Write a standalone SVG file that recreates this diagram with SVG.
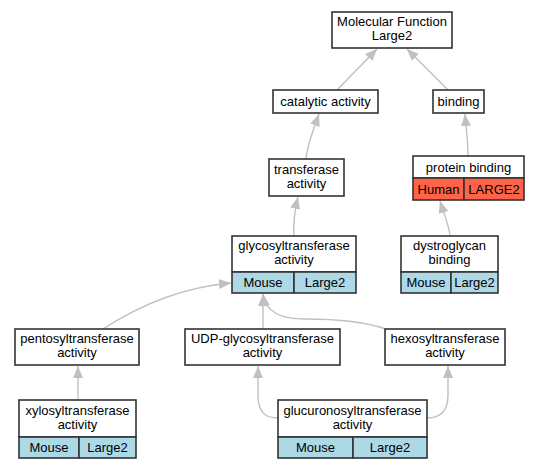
<svg xmlns="http://www.w3.org/2000/svg" width="539" height="469" viewBox="0 0 539 469">
<style>
.box{fill:#ffffff;stroke:#333333;stroke-width:1.6}
.blue{fill:#add8e6;stroke:#333333;stroke-width:1.6}
.red{fill:#ff6347;stroke:#333333;stroke-width:1.6}
text{font-family:"Liberation Sans",Arial,sans-serif;font-size:13px;fill:#000;text-anchor:middle}
.edge{fill:none;stroke:#c0c0c0;stroke-width:1.4;marker-end:url(#arr)}
</style>
<defs>
<marker id="arr" markerUnits="userSpaceOnUse" markerWidth="12" markerHeight="10" refX="12" refY="5" orient="auto">
<path d="M0,0 L12,5 L0,10 z" fill="#c0c0c0"/>
</marker>
</defs>
<rect width="539" height="469" fill="#ffffff"/>
<g id="edges">
<path class="edge" d="M337,90 L377,49"/>
<path class="edge" d="M448,90 L407,49"/>
<path class="edge" d="M306,159 C307,145 314,128 319,114"/>
<path class="edge" d="M468,156 C468,141 466,127 465,114"/>
<path class="edge" d="M294,236 C293,222 295,209 298,197"/>
<path class="edge" d="M450,236 C449,225 444,214 440,201"/>
<path class="edge" d="M103,329 C140,305 185,287 231,283"/>
<path class="edge" d="M263,329 L263,294"/>
<path class="edge" d="M386,329 C360,320 330,319 305,319 C280,319 266,312 263,294"/>
<path class="edge" d="M78,400 L78,366"/>
<path class="edge" d="M278,418 C265,418 258,412 258,395 L258,366"/>
<path class="edge" d="M427,418 C440,418 448,412 448,395 L448,366"/>
</g>
<g id="molecular_function">
<rect class="box" x="332" y="12" width="120" height="36"/>
<text x="392" y="26">Molecular Function</text>
<text x="392" y="40">Large2</text>
</g>
<g id="catalytic_activity">
<rect class="box" x="273" y="90" width="105" height="23"/>
<text x="325.5" y="106">catalytic activity</text>
</g>
<g id="binding">
<rect class="box" x="433" y="90" width="51" height="23"/>
<text x="458.5" y="106">binding</text>
</g>
<g id="transferase_activity">
<rect class="box" x="269" y="159" width="75" height="37"/>
<text x="306.5" y="174">transferase</text>
<text x="306.5" y="188">activity</text>
</g>
<g id="protein_binding">
<rect class="box" x="413" y="156" width="111" height="22"/>
<rect class="red" x="413" y="178" width="51" height="22"/>
<rect class="red" x="464" y="178" width="60" height="22"/>
<text x="468.5" y="171.5">protein binding</text>
<text x="438.5" y="193.5">Human</text>
<text x="494" y="193.5">LARGE2</text>
</g>
<g id="glycosyltransferase_activity">
<rect class="box" x="232" y="236" width="124" height="36"/>
<rect class="blue" x="232" y="272" width="62" height="21"/>
<rect class="blue" x="294" y="272" width="62" height="21"/>
<text x="294" y="250">glycosyltransferase</text>
<text x="294" y="264">activity</text>
<text x="263" y="286.5">Mouse</text>
<text x="325" y="286.5">Large2</text>
</g>
<g id="dystroglycan_binding">
<rect class="box" x="401" y="236" width="97" height="36"/>
<rect class="blue" x="401" y="272" width="50" height="21"/>
<rect class="blue" x="451" y="272" width="47" height="21"/>
<text x="449.5" y="250">dystroglycan</text>
<text x="449.5" y="264">binding</text>
<text x="426" y="286.5">Mouse</text>
<text x="474.5" y="286.5">Large2</text>
</g>
<g id="pentosyltransferase_activity">
<rect class="box" x="15" y="329" width="124" height="36"/>
<text x="77" y="343">pentosyltransferase</text>
<text x="77" y="357">activity</text>
</g>
<g id="udp_glycosyltransferase_activity">
<rect class="box" x="185" y="329" width="155" height="36"/>
<text x="262.5" y="343">UDP-glycosyltransferase</text>
<text x="262.5" y="357">activity</text>
</g>
<g id="hexosyltransferase_activity">
<rect class="box" x="385" y="329" width="120" height="36"/>
<text x="445" y="343">hexosyltransferase</text>
<text x="445" y="357">activity</text>
</g>
<g id="xylosyltransferase_activity">
<rect class="box" x="19" y="400" width="117" height="37"/>
<rect class="blue" x="19" y="437" width="60" height="21"/>
<rect class="blue" x="79" y="437" width="57" height="21"/>
<text x="77.5" y="414.5">xylosyltransferase</text>
<text x="77.5" y="428.5">activity</text>
<text x="49" y="451.5">Mouse</text>
<text x="107.5" y="451.5">Large2</text>
</g>
<g id="glucuronosyltransferase_activity">
<rect class="box" x="278" y="400" width="149" height="37"/>
<rect class="blue" x="278" y="437" width="75" height="21"/>
<rect class="blue" x="353" y="437" width="74" height="21"/>
<text x="352.5" y="414.5">glucuronosyltransferase</text>
<text x="352.5" y="428.5">activity</text>
<text x="315.5" y="451.5">Mouse</text>
<text x="390" y="451.5">Large2</text>
</g>
</svg>
